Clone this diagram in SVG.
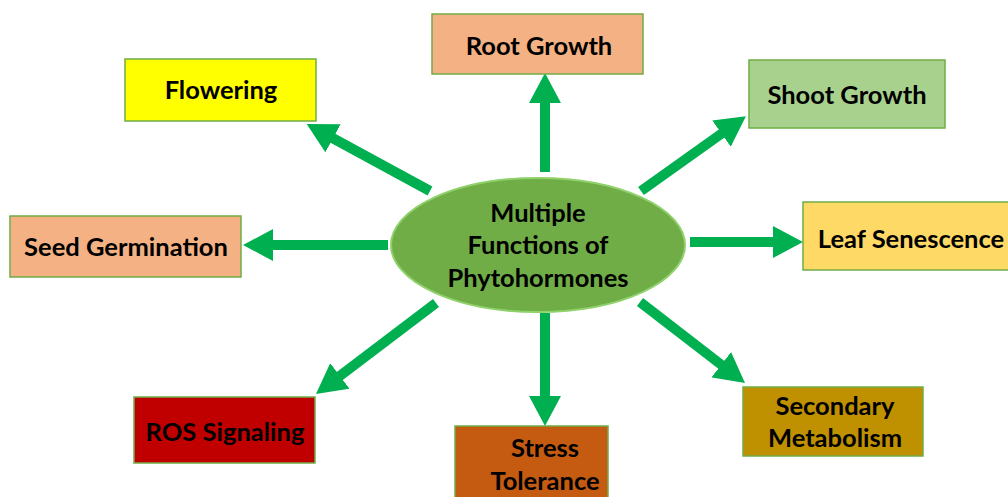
<svg xmlns="http://www.w3.org/2000/svg" width="1008" height="497" viewBox="0 0 1008 497">
<defs>
<style>
.box{stroke:#70ad47;stroke-width:1.5}
.t{font-family:Lato,"Liberation Sans",sans-serif;font-weight:bold;font-size:25.5px;fill:#000;text-anchor:middle}
.c{fill:none;stroke:#00b050;stroke-width:10}
</style>
<marker id="ah" markerUnits="userSpaceOnUse" markerWidth="30" markerHeight="32" refX="8" refY="16" orient="auto" viewBox="0 0 30 32">
<path d="M0,0 L30,16 L0,32 z" fill="#00b050"/>
</marker>
</defs>
<rect width="1008" height="497" fill="#fff"/>
<g id="connectors">
<line class="c" x1="545" y1="172" x2="545" y2="95" marker-end="url(#ah)"/>
<line class="c" x1="545" y1="313" x2="545" y2="404" marker-end="url(#ah)"/>
<line class="c" x1="388" y1="245" x2="265" y2="245" marker-end="url(#ah)"/>
<line class="c" x1="690" y1="242" x2="781" y2="242" marker-end="url(#ah)"/>
<line class="c" x1="430" y1="191" x2="326" y2="134.5" marker-end="url(#ah)"/>
<line class="c" x1="641" y1="191" x2="728" y2="129" marker-end="url(#ah)"/>
<line class="c" x1="436" y1="303" x2="333.5" y2="380.7" marker-end="url(#ah)"/>
<line class="c" x1="640" y1="302" x2="727.6" y2="369.6" marker-end="url(#ah)"/>
</g>
<g id="center">
<ellipse cx="538" cy="245" rx="147" ry="67" fill="#70ad47" stroke="#8fd16a" stroke-width="2"/>
<text class="t" x="538" y="222">Multiple</text>
<text class="t" x="538" y="254">Functions of</text>
<text class="t" x="538" y="287">Phytohormones</text>
</g>
<g id="root-growth">
<rect class="box" x="432" y="14" width="211" height="60" fill="#f4b183"/>
<text class="t" x="539" y="55">Root Growth</text>
</g>
<g id="flowering">
<rect class="box" x="125" y="59" width="191" height="62" fill="#ffff00"/>
<text class="t" x="221" y="99">Flowering</text>
</g>
<g id="shoot-growth">
<rect class="box" x="749" y="60" width="196" height="68" fill="#a9d18e"/>
<text class="t" x="847" y="104">Shoot Growth</text>
</g>
<g id="seed-germination">
<rect class="box" x="10" y="216" width="231" height="61" fill="#f4b183"/>
<text class="t" x="126" y="256">Seed Germination</text>
</g>
<g id="leaf-senescence">
<rect class="box" x="803" y="202" width="215" height="68" fill="#ffd966"/>
<text class="t" x="911" y="248">Leaf Senescence</text>
</g>
<g id="ros-signaling">
<rect class="box" x="134" y="397" width="181" height="66" fill="#c00000"/>
<text class="t" x="225" y="441">ROS Signaling</text>
</g>
<g id="stress-tolerance">
<rect class="box" x="455" y="426" width="153" height="80" fill="#c55a11"/>
<text class="t" x="545" y="457">Stress</text>
<text class="t" x="545" y="490">Tolerance</text>
</g>
<g id="secondary-metabolism">
<rect class="box" x="743" y="387" width="180" height="69" fill="#bf9000"/>
<text class="t" x="835" y="415">Secondary</text>
<text class="t" x="835" y="447">Metabolism</text>
</g>
</svg>
